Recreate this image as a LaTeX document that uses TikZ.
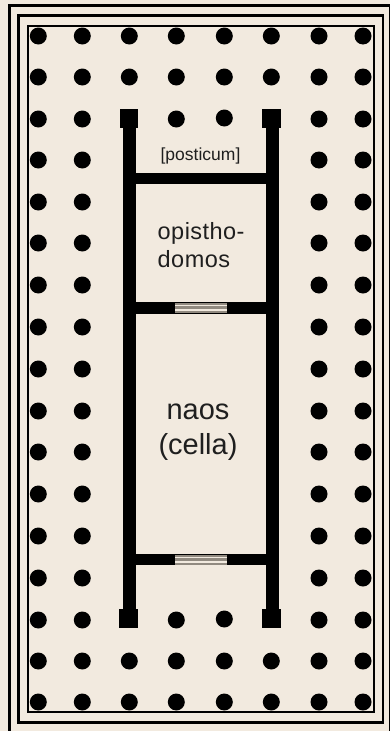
\documentclass[tikz,border=0pt]{standalone}
\usepackage{fontspec}
\setmainfont{Liberation Sans}
\newfontfamily\spaced[LetterSpace=2]{Liberation Sans}
\definecolor{paper}{HTML}{F2EADF}
\definecolor{doorline}{HTML}{918A80}
\tikzset{
  column/.style={fill=black,draw=none},
  wall/.style={fill=black,draw=none},
  frameline/.style={draw=black,fill=none,line join=miter},
  roomlabel/.style={text=black!88,inner sep=0pt}
}
\begin{document}
\begin{tikzpicture}[x=1pt,y=-1pt]
\useasboundingbox (0,0) rectangle (390,731);
\fill[paper] (0,0) rectangle (390,731);
% frame
\draw[frameline,line width=3.4pt] (9.2,5.3) rectangle (390.5,735);
\draw[frameline,line width=2.8pt] (18.3,15.5) rectangle (383,722.2);
\draw[frameline,line width=2pt] (27.8,25.5) rectangle (374.2,712);
% columns
\foreach \y in {36,77,119,160,202,243,285,327,369,411,452,494,536,578,620,661,702}{
  \foreach \x in {38.3,82.3,319,363}{
    \fill[column] (\x,\y) circle (8.5);
  }
}
\foreach \y in {36,77,661,702}{
  \foreach \x in {129.3,176.3,224.3,271.3}{
    \fill[column] (\x,\y) circle (8.5);
  }
}
\foreach \x/\y in {176.3/119,224.3/118,176.3/620,224.3/619}{
  \fill[column] (\x,\y) circle (8.5);
}
% walls
\fill[wall] (123.3,118) rectangle (135.7,620);
\fill[wall] (266,118) rectangle (279,620);
\fill[wall] (119.5,109) rectangle (138,128);
\fill[wall] (262,109) rectangle (281,128);
\fill[wall] (119,609) rectangle (138,628);
\fill[wall] (262,609) rectangle (281,628);
\fill[wall] (130,172.5) rectangle (272,184);
\fill[wall] (130,302) rectangle (272,314);
\fill[wall] (130,554) rectangle (272,565);
% doors
\foreach \y in {302.5,554.5}{
  \fill[paper] (175,\y) rectangle (227,\y+10.5);
  \draw[doorline,line width=2pt] (175,\y+1) -- (227,\y+1);
  \draw[doorline,line width=3pt] (175,\y+5.2) -- (227,\y+5.2);
  \draw[doorline,line width=2pt] (175,\y+9.5) -- (227,\y+9.5);
}
% labels
\node[roomlabel,font=\fontsize{17.5}{20}\selectfont,anchor=base] (posticum) at (200.5,160) {[posticum]};
\node[roomlabel,font=\spaced\fontsize{23.5}{28}\selectfont,anchor=base west] (opistho) at (157.5,239.5) {opistho-};
\node[roomlabel,font=\spaced\fontsize{23.5}{28}\selectfont,anchor=base west] (domos) at (157.5,267.5) {domos};
\node[roomlabel,font=\fontsize{29}{36}\selectfont,anchor=base] (naos) at (198,419.5) {naos};
\node[roomlabel,font=\fontsize{29}{36}\selectfont,anchor=base] (cella) at (198,454.5) {(cella)};
\end{tikzpicture}
\end{document}
